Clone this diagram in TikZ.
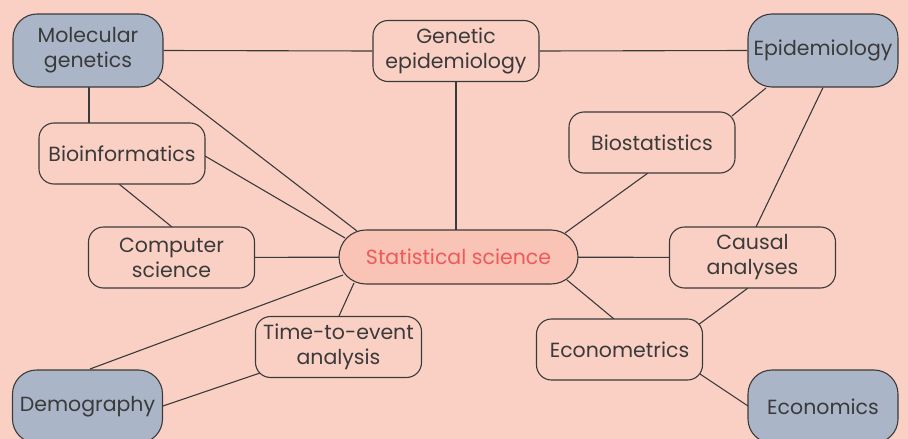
\documentclass[tikz,border=0pt]{standalone}
\usepackage{fontspec}
\setmainfont{Poppins}
\usetikzlibrary{backgrounds}
\definecolor{bgpink}{HTML}{FBD0C4}
\definecolor{statpink}{HTML}{F9C3B5}
\definecolor{grayblue}{HTML}{AAB6C8}
\definecolor{ink}{HTML}{3A3A3A}
\definecolor{statred}{HTML}{EE5A5A}
\begin{document}
\begin{tikzpicture}[x=1pt,y=-1pt,
  base/.style={draw=ink, line width=1.1pt, text=ink, align=center, inner sep=0pt,
    font=\fontsize{20.5}{25}\selectfont},
  topic/.style={base, fill=bgpink, rounded corners=15pt, minimum width=166pt, minimum height=61pt},
  field/.style={base, fill=grayblue, rounded corners=24pt, minimum width=150pt, minimum height=73pt},
  center/.style={base, fill=statpink, text=statred, rounded corners=27pt, minimum width=239pt, minimum height=54pt},
  link/.style={draw=ink, line width=1.1pt}]
\useasboundingbox (0,0) rectangle (908,439);
\begin{scope}
\clip (0,0) rectangle (908,439);
\node[field] (mg) at (88,50.5) {Molecular\\genetics};
\node[topic] (ge) at (456,51) {Genetic\\epidemiology};
\node[field] (ep) at (823,50.5) {Epidemiology};
\node[topic] (bi) at (122,153.5) {Bioinformatics};
\node[topic] (bs) at (652,142.5) {Biostatistics};
\node[topic] (cs) at (171.5,257.5) {Computer\\science};
\node[center] (st) at (458.5,257) {Statistical science};
\node[topic] (ca) at (752.5,257.5) {Causal\\analyses};
\node[topic] (te) at (338.5,347) {Time-to-event\\analysis};
\node[topic] (ec) at (619.5,349.5) {Econometrics};
\node[field] (dm) at (87.5,406.5) {Demography};
\node[field] (eo) at (823,406.5) {Economics};
\begin{scope}[on background layer]
\fill[bgpink] (0,0) rectangle (908,439);
\draw[link] (mg.east) -- (ge.west);
\draw[link] (ge.east) -- (ep.west);
\draw[link] ([shift={(1,0)}]mg.center) -- ([shift={(-33,0)}]bi.center);
\draw[link] ([shift={(69,26.5)}]mg.center) -- ([shift={(-101.5,-26)}]st.center);
\draw[link] ([shift={(83,2.5)}]bi.center) -- ([shift={(-113.5,-19)}]st.center);
\draw[link] ([shift={(-3,30.5)}]bi.center) -- ([shift={(0.5,-30.5)}]cs.center);
\draw[link] (ge.center) -- (ge.center |- st.center);
\draw[link] (cs.center) -- (st.center);
\draw[link] (st.center) -- (ca.center);
\draw[link] ([shift={(-115.5,18)}]st.center) -- ([shift={(2.5,-37.5)}]dm.center);
\draw[link] ([shift={(-104.5,26)}]st.center) -- ([shift={(0.5,-31)}]te.center);
\draw[link] ([shift={(-78.5,26)}]te.center) -- ([shift={(75.5,-0.5)}]dm.center);
\draw[link] ([shift={(106.5,-24)}]st.center) -- ([shift={(-4,30.5)}]bs.center);
\draw[link] ([shift={(80,-26.5)}]bs.center) -- ([shift={(-57,37.5)}]ep.center);
\draw[link] (ep.south) -- ([shift={(3.5,-30.5)}]ca.center);
\draw[link] ([shift={(108.5,23)}]st.center) -- ([shift={(-5.5,-30.5)}]ec.center);
\draw[link] ([shift={(-4.5,30.5)}]ca.center) -- ([shift={(78.5,-24.5)}]ec.center);
\draw[link] ([shift={(80.5,24.5)}]ec.center) -- ([shift={(-75,-0.5)}]eo.center);
\end{scope}
\end{scope}
\end{tikzpicture}
\end{document}
